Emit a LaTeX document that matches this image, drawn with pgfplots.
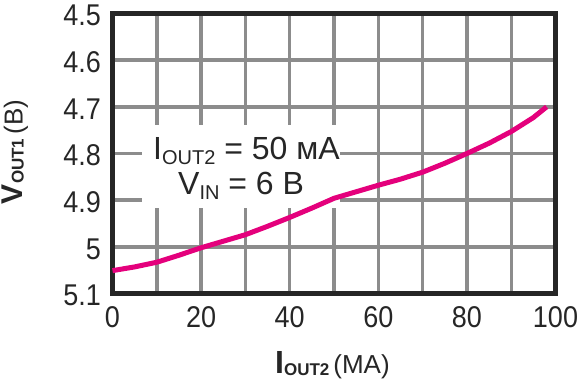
\documentclass[border=0pt]{standalone}
\usepackage{fontspec}
\setmainfont{Liberation Sans}
\newfontfamily\tickfont[FakeStretch=0.9]{Liberation Sans}
\usepackage{pgfplots}
\pgfplotsset{compat=1.18}
\definecolor{txt}{RGB}{38,38,38}
\definecolor{gridc}{RGB}{140,140,140}
\definecolor{curve}{RGB}{228,0,124}
\newcommand{\sub}[1]{\raisebox{-5pt}{\fontsize{20}{20}\selectfont #1}}
\newcommand{\bsub}[1]{\raisebox{-1pt}{\fontsize{17}{17}\selectfont\bfseries #1}}
\begin{document}
\begin{tikzpicture}
\useasboundingbox (0,0) rectangle (578pt,380pt);
\begin{axis}[
  at={(112.5pt,86.5pt)}, anchor=south west,
  scale only axis, width=443pt, height=280pt,
  xmin=0, xmax=100, ymin=4.5, ymax=5.1, y dir=reverse,
  xtick={0,20,40,60,80,100},
  minor xtick={10,30,50,70,90},
  ytick={4.5,4.6,4.7,4.8,4.9,5.0,5.1},
  yticklabels={4.5,4.6,4.7,4.8,4.9,5,5.1},
  grid=both,
  major grid style={gridc, line width=3.4pt},
  minor grid style={gridc, line width=3.4pt},
  major tick length=0pt, minor tick length=0pt,
  axis line style={txt, line width=4.5pt},
  tick label style={txt, font=\tickfont\fontsize{30}{30}\selectfont},
  /pgf/number format/assume math mode=true,
  xticklabel style={yshift=-10pt},
  yticklabel style={xshift=-8pt, yshift=-2pt},
  clip=false,
]
\fill[white] (axis cs:6.7,4.739) rectangle (axis cs:51.4,4.917);
\addplot[curve, line width=5pt] coordinates {
(0,5.051) (5,5.043) (10,5.033) (15,5.018) (20,5.002) (25,4.988) (30,4.974)
(35,4.956) (40,4.937) (45,4.917) (50,4.896) (55,4.882) (60,4.868) (65,4.855)
(70,4.840) (75,4.821) (80,4.800) (85,4.778) (90,4.753) (95,4.723) (98,4.700)
};
\end{axis}
\node[anchor=base west, txt, inner sep=0pt, font=\fontsize{32}{32}\selectfont] at (153pt,220pt) {I\sub{OUT2} = 50 мА};
\node[anchor=base west, txt, inner sep=0pt, font=\fontsize{32}{32}\selectfont] at (178pt,185pt) {V\sub{IN} = 6 В};
\node[rotate=90, txt, inner sep=0pt, font=\fontsize{30}{30}\selectfont] at (15pt,228pt) {{\bfseries V\bsub{OUT1}}\kern4pt{\fontsize{26}{26}\selectfont(В)}};
\node[anchor=base west, txt, inner sep=0pt, font=\fontsize{32}{32}\selectfont] at (275pt,6pt) {{\bfseries I\bsub{OUT2}}\kern4pt{\fontsize{26}{26}\selectfont(МА)}};
\end{tikzpicture}
\end{document}
